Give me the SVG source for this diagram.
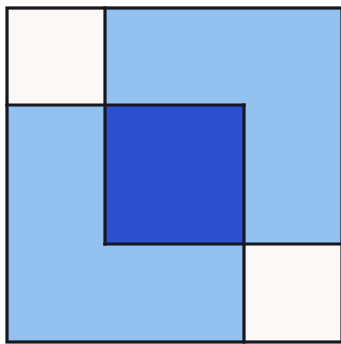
<svg xmlns="http://www.w3.org/2000/svg" width="341" height="344" viewBox="0 0 341 344">
<style>
.ln{stroke:#17171f;stroke-width:3.2;fill:none;stroke-linecap:square}
.light{fill:#93c1f0}
.white{fill:#fcf8f6}
.dark{fill:#2c4fcf}
</style>
<rect x="0" y="0" width="341" height="344" fill="#ffffff"/>
<rect class="light" x="7" y="8" width="335" height="334"/>
<rect class="white" x="7" y="8" width="98" height="97"/>
<rect class="white" x="244" y="244" width="98" height="98"/>
<rect class="dark" x="105" y="105" width="139" height="139"/>
<g id="lines">
<rect class="ln" x="7" y="8" width="335" height="334"/>
<line class="ln" x1="105" y1="8" x2="105" y2="244"/>
<line class="ln" x1="7" y1="105" x2="244" y2="105"/>
<line class="ln" x1="244" y1="105" x2="244" y2="342"/>
<line class="ln" x1="105" y1="244" x2="342" y2="244"/>
</g>
</svg>
